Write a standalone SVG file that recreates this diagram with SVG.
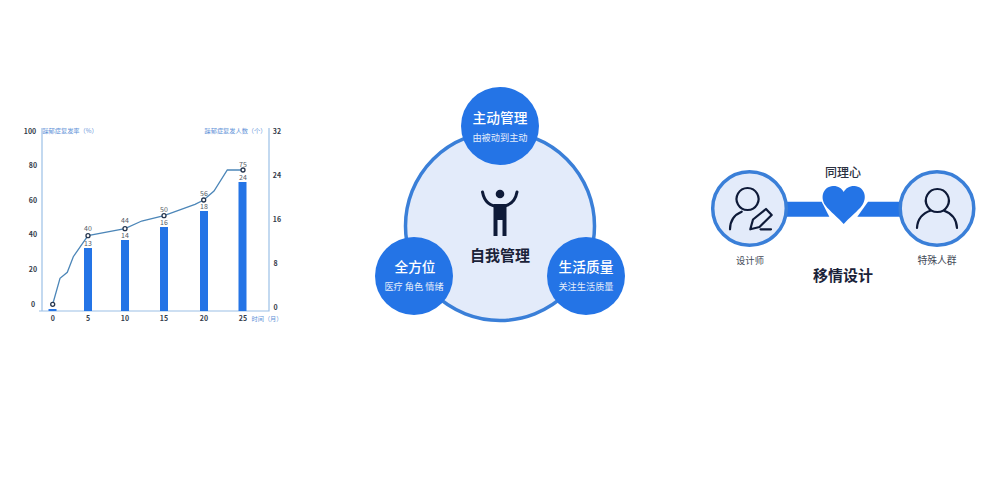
<svg xmlns="http://www.w3.org/2000/svg" width="1000" height="500" viewBox="0 0 1000 500">
<style>
text{font-family:"Noto Sans CJK SC","Noto Sans",sans-serif;text-anchor:middle}
.ax{fill:#333b4a;font-size:7px;font-weight:700}
.val{fill:#555b66;font-size:7px}
.cap{fill:#5f93d8;font-size:6.200px}
.axis{stroke:#9cc0e6;stroke-width:1.2;fill:none}
.bar{fill:#2474e6}
.pt{fill:#fff;stroke:#26364f;stroke-width:1.3}
.big{fill:#2474e6}
.h{fill:#fff;font-size:13.700px;font-weight:500}
.s{fill:#e4edfb;font-size:9.200px}
.ic{fill:none;stroke:#0e1a38;stroke-width:2.200;stroke-linecap:round;stroke-linejoin:round}
.ring{fill:#e3ebfa;stroke:#3a7fd8;stroke-width:3.500}
</style>
<rect width="1000" height="500" fill="#fff"/>
<g id="chart">
<path class="axis" d="M42 128V311M39 311H269V128"/>
<g class="bar">
<rect x="48.500" y="309" width="8" height="2"/><rect x="84" y="248" width="8" height="63"/><rect x="121" y="240" width="8" height="71"/><rect x="160" y="227" width="8" height="84"/><rect x="200" y="211" width="8" height="100"/><rect x="238.500" y="182" width="8" height="129"/>
</g>
<path d="M52.700 304.300L60 278.300L67.300 272.300L73.300 256.700L88 235.700L125 228.700L141.700 221L164 215.700L195 204.300L203.700 200L214 191L227.300 170H243" fill="none" stroke="#4c86b8" stroke-width="1.300"/>
<g class="pt"><circle cx="52.700" cy="304.300" r="2"/><circle cx="88" cy="235.700" r="2"/><circle cx="125" cy="228.700" r="2"/><circle cx="164" cy="215.700" r="2"/><circle cx="203.700" cy="200" r="2"/><circle cx="243" cy="170" r="2"/></g>
<g class="ax">
<text x="30" y="133.500">100</text><text x="33" y="168">80</text><text x="33" y="202.500">60</text><text x="33" y="237">40</text><text x="33" y="271.500">20</text><text x="33" y="306.500">0</text>
<text x="277" y="133.500">32</text><text x="277" y="177.500">24</text><text x="277" y="221.500">16</text><text x="275.500" y="265.500">8</text><text x="275.500" y="309.500">0</text>
<text x="52.700" y="321">0</text><text x="88" y="321">5</text><text x="125" y="321">10</text><text x="164" y="321">15</text><text x="204" y="321">20</text><text x="243" y="321">25</text>
</g>
<g class="val">
<text x="88" y="231">40</text><text x="125" y="223">44</text><text x="164" y="212">50</text><text x="204" y="196">56</text><text x="243" y="167">75</text>
<text x="88" y="246">13</text><text x="125" y="238">14</text><text x="164" y="225">16</text><text x="204" y="209">18</text><text x="243" y="180">24</text>
</g>
<g class="cap"><text x="70" y="133">躁郁症复发率（%）</text><text x="235.500" y="133">躁郁症复发人数（个）</text><text x="267" y="321">时间（月）</text></g>
</g>
<g id="self-management">
<circle cx="500" cy="226" r="94.500" fill="#e3ebfa" stroke="#3a7fd8" stroke-width="3.500"/>
<path d="M482.500 192C484.500 203 491 206.500 499.500 206.500C508 206.500 515 203 517 192" fill="none" stroke="#0e1a38" stroke-width="3" stroke-linecap="round"/>
<circle cx="500" cy="194" r="4.300" fill="#0e1a38"/>
<path d="M493.500 204H506.500V236H502.500V220H497.500V236H493.500Z" fill="#0e1a38"/>
<text x="500" y="261" fill="#1a2238" font-size="15" font-weight="700">自我管理</text>
</g>
<g id="node-top"><circle class="big" cx="500" cy="126" r="39"/><text class="h" x="500" y="123">主动管理</text><text class="s" x="500" y="141">由被动到主动</text></g>
<g id="node-left"><circle class="big" cx="414" cy="276" r="39"/><text class="h" x="415" y="272">全方位</text><text class="s" x="414" y="290">医疗 角色 情绪</text></g>
<g id="node-right"><circle class="big" cx="586" cy="276" r="39"/><text class="h" x="586" y="272">生活质量</text><text class="s" x="586" y="290">关注生活质量</text></g>
<g id="connectors">
<path d="M785 201.700H821.700L829.300 216.700H785Z" fill="#2474e6"/>
<path d="M901 201.700H868L857.300 216.700H901Z" fill="#2474e6"/>
</g>
<g id="heart"><path d="M843.700 224C838.500 218 829.500 211 825.500 205.500C819.500 197 823.500 186.500 833 186C838 185.800 842 188.500 843.700 192C845.500 188.500 849.500 185.800 854.500 186C864 186.500 868 197 862 205.500C858 211 849 218 843.700 224Z" fill="#2474e6"/>
<text x="843" y="177" fill="#2a3040" font-size="12" font-weight="500">同理心</text></g>
<g id="designer"><circle class="ring" cx="749.500" cy="208.500" r="36.800"/>
<path class="ic" d="M730 229.300C730 220 735 214.500 741.700 211.700M747.500 210a11 11 0 1 1 .1 0M760.500 229.300H771"/>
<path d="M750.300 229.300L753 219.500L766 209L771.700 215L759.500 227Z" fill="none" stroke="#0e1a38" stroke-width="2.200" stroke-linejoin="round"/>
<text x="750" y="264" fill="#444a58" font-size="9.300">设计师</text></g>
<g id="user"><circle class="ring" cx="937" cy="208.500" r="36.800"/>
<path class="ic" d="M917 228C917.500 219 923 213 931 210.500M957 228C956.500 219 951 213 943.500 210.500M937.300 212a11.500 11.500 0 1 1 .1 0"/>
<text x="937" y="264" fill="#444a58" font-size="9.800">特殊人群</text></g>
<text id="title" x="843" y="281" fill="#1a2238" font-size="15" font-weight="700">移情设计</text>
</svg>
